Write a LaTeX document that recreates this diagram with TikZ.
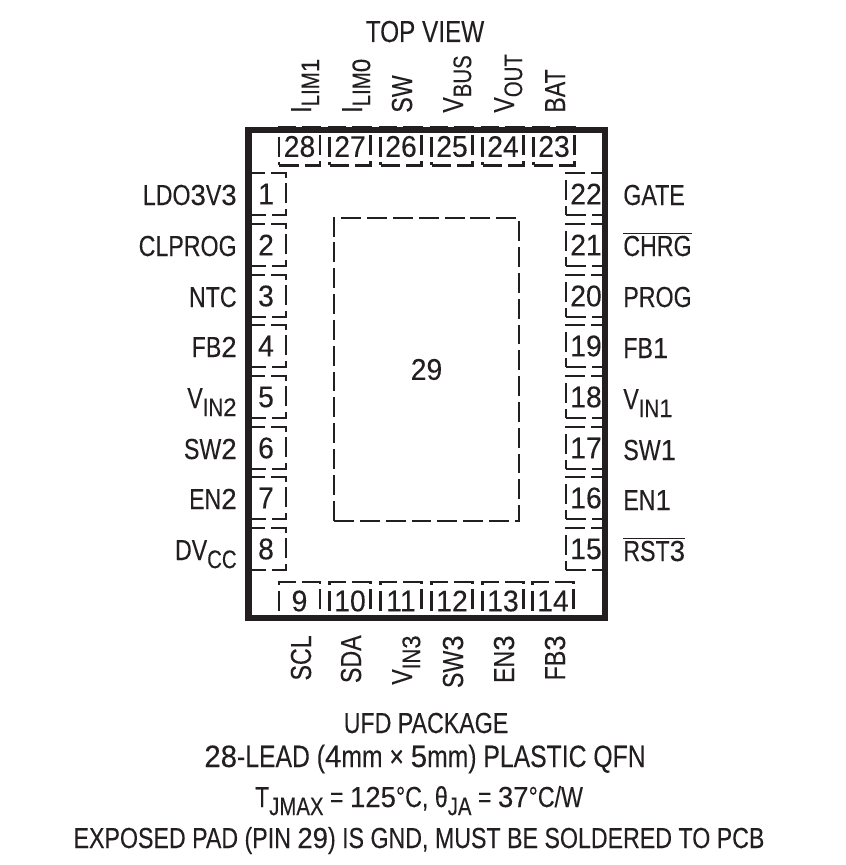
\documentclass[tikz,border=0pt]{standalone}
\usepackage{fontspec}
\setmainfont[FakeStretch=0.8,FakeBold=0.15]{Liberation Sans}
\newfontfamily\numfont[FakeStretch=0.95,FakeBold=0.15]{Liberation Sans}
\newcommand{\nm}[1]{{\numfont #1}}
\newcommand{\lsub}[1]{\raisebox{-0.28em}{\fontsize{14.5pt}{15pt}\selectfont #1}}
\newcommand{\lbar}[1]{$\overline{\hbox{#1}}$}
\definecolor{ink}{HTML}{231F20}
\tikzset{
  every node/.style={inner sep=0pt,text=ink,font=\fontsize{16.5pt}{18pt}\selectfont},
  pad/.style={draw=ink,line width=1.2pt,dash pattern=on 11.3pt off 3.4pt},
  lpin/.style={pad,minimum width=0.8cm,minimum height=0.84cm,font=\fontsize{17pt}{18pt}\numfont},
  tpin/.style={pad,minimum width=0.82cm,minimum height=0.76cm,font=\fontsize{17pt}{18pt}\numfont},
  tag/.style={anchor=base,rotate=0},
  ltag/.style={anchor=base east},
  rtag/.style={anchor=base west},
  ttag/.style={anchor=base west,rotate=90},
  btag/.style={anchor=base east,rotate=90}
}
\begin{document}
\begin{tikzpicture}[x=0.02cm,y=-0.02cm]
\useasboundingbox (0,0) rectangle (845,865);
\node[tag,font=\fontsize{17.3pt}{18pt}\selectfont] (title) at (425,42) {TOP VIEW};

% left side
\node[lpin] (1) at (266,194) {1};
\node[lpin] (2) at (266,245) {2};
\node[lpin] (3) at (266,296) {3};
\node[lpin] (4) at (266,346) {4};
\node[lpin] (5) at (266,397) {5};
\node[lpin] (6) at (266,448) {6};
\node[lpin] (7) at (266,498) {7};
\node[lpin] (8) at (266,549) {8};

% bottom side
\node[tpin] (9) at (299.5,601) {9};
\node[tpin] (10) at (350,601) {10};
\node[tpin] (11) at (401,601) {11};
\node[tpin] (12) at (452,601) {12};
\node[tpin] (13) at (503,601) {13};
\node[tpin] (14) at (553,601) {14};

% right side
\node[lpin] (22) at (586,194) {22};
\node[lpin] (21) at (586,245) {21};
\node[lpin] (20) at (586,296) {20};
\node[lpin] (19) at (586,346) {19};
\node[lpin] (18) at (586,397) {18};
\node[lpin] (17) at (586,448) {17};
\node[lpin] (16) at (586,498) {16};
\node[lpin] (15) at (586,549) {15};

% top side
\node[tpin] (28) at (299.5,146.5) {28};
\node[tpin] (27) at (350,146.5) {27};
\node[tpin] (26) at (401,146.5) {26};
\node[tpin] (25) at (452,146.5) {25};
\node[tpin] (24) at (503,146.5) {24};
\node[tpin] (23) at (554,146.5) {23};

\node[pad,minimum width=3.7cm,minimum height=6.06cm,font=\fontsize{17pt}{18pt}\numfont] (29) at (426.5,369.5) {29};
\draw[ink,line width=0.13cm] (248.5,130) rectangle (605,618);

\node[ltag] (LDO3V3) at (237,205) {LDO\nm{3}V\nm{3}};
\node[ltag] (CLPROG) at (237,256) {CLPROG};
\node[ltag] (NTC) at (237,307) {NTC};
\node[ltag] (FB2) at (237,357) {FB\nm{2}};
\node[ltag] (VIN2) at (237,408) {V\lsub{IN\nm{2}}};
\node[ltag] (SW2) at (237,459) {SW\nm{2}};
\node[ltag] (EN2) at (237,509) {EN\nm{2}};
\node[ltag] (DVCC) at (237,560) {DV\lsub{CC}};

\node[rtag] (GATE) at (623,205) {GATE};
\node[rtag] (CHRG) at (623,256) {\lbar{CHRG}};
\node[rtag] (PROG) at (623,307) {PROG};
\node[rtag] (FB1) at (623,358) {FB\nm{1}};
\node[rtag] (VIN1) at (623,409) {V\lsub{IN\nm{1}}};
\node[rtag] (SW1) at (623,460) {SW\nm{1}};
\node[rtag] (EN1) at (623,510) {EN\nm{1}};
\node[rtag] (RST3) at (623,561) {\lbar{RST\nm{3}}};

\node[ttag] (ILIM1) at (311,113) {I\lsub{LIM\nm{1}}};
\node[ttag] (ILIM0) at (362,113) {I\lsub{LIM\nm{0}}};
\node[ttag] (SW) at (412,113) {SW};
\node[ttag] (VBUS) at (463,113) {V\lsub{BUS}};
\node[ttag] (VOUT) at (514,113) {V\lsub{OUT}};
\node[ttag] (BAT) at (565,113) {BAT};

\node[btag] (SCL) at (311,635) {SCL};
\node[btag] (SDA) at (361,635) {SDA};
\node[btag] (VIN3) at (412,635) {V\lsub{IN\nm{3}}};
\node[btag] (SW3) at (463,635) {SW\nm{3}};
\node[btag] (EN3) at (514,635) {EN\nm{3}};
\node[btag] (FB3) at (565,635) {FB\nm{3}};

\node[tag] (cap1) at (426,733) {UFD PACKAGE};
\node[tag,font=\fontsize{17.6pt}{18pt}\selectfont] (cap2) at (425,767) {\nm{28}-LEAD (\nm{4}mm × \nm{5}mm) PLASTIC QFN};
\node[tag] (cap3) at (419,807) {T\lsub{JMAX} = \nm{125}°C, θ\lsub{JA} = \nm{37}°C/W};
\node[tag] (cap4) at (419,848) {EXPOSED PAD (PIN \nm{29}) IS GND, MUST BE SOLDERED TO PCB};
\end{tikzpicture}
\end{document}
